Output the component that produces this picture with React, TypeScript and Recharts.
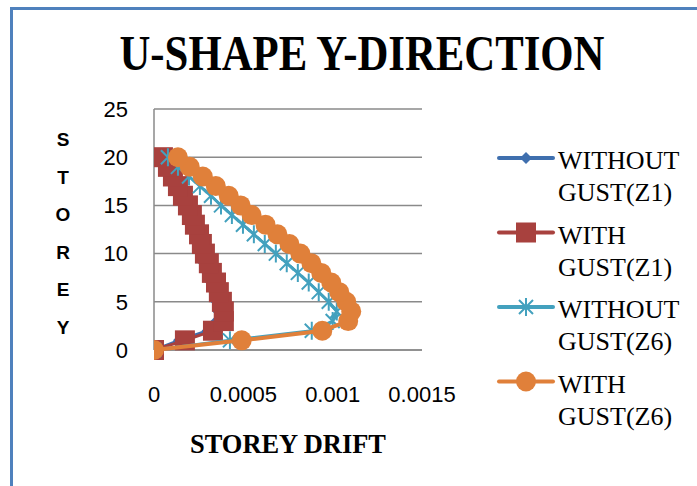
import { ScatterChart, Scatter, XAxis, YAxis, CartesianGrid, Legend } from "recharts";

// storey drift per storey level
const STOREYS = [0, 1, 2, 3, 4, 5, 6, 7, 8, 9, 10, 11, 12, 13, 14, 15, 16, 17, 18, 19, 20];
const WITHOUT_GUST_Z1 = [0, 0.00014, 0.0003, 0.00035, 0.00036, 0.00035, 0.00034, 0.00032, 0.0003, 0.00028, 0.00026, 0.00025, 0.00023, 0.00021, 0.00019, 0.00017, 0.00015, 0.00012, 0.0001, 0.00007, 0.00004];
const WITH_GUST_Z1 = [0, 0.000173, 0.00033, 0.000391, 0.000391, 0.00038, 0.000363, 0.000347, 0.000324, 0.000307, 0.000285, 0.000268, 0.000252, 0.000229, 0.000212, 0.00019, 0.000162, 0.000134, 0.000106, 0.000078, 0.00005];
const WITHOUT_GUST_Z6 = [0, 0.000425, 0.000883, 0.001, 0.001023, 0.000978, 0.000922, 0.000866, 0.000805, 0.000743, 0.000682, 0.00062, 0.000559, 0.000498, 0.000436, 0.000375, 0.000319, 0.000257, 0.000196, 0.000134, 0.000078];
const WITH_GUST_Z6 = [0, 0.000491, 0.000942, 0.001087, 0.001104, 0.001076, 0.001037, 0.000992, 0.000936, 0.000881, 0.000819, 0.000758, 0.000691, 0.000624, 0.000546, 0.000485, 0.000418, 0.000346, 0.000273, 0.0002, 0.000134];

const X_TICKS = [0, 0.0005, 0.001, 0.0015];
const Y_TICKS = [0, 5, 10, 15, 20, 25];

const SERIES = [
  { key: "wo1", lines: ["WITHOUT", "GUST(Z1)"], color: "#3f6fae", marker: "diamond", drift: WITHOUT_GUST_Z1 },
  { key: "w1", lines: ["WITH", "GUST(Z1)"], color: "#a8413e", marker: "square", drift: WITH_GUST_Z1 },
  { key: "wo6", lines: ["WITHOUT", "GUST(Z6)"], color: "#43a1be", marker: "star", drift: WITHOUT_GUST_Z6 },
  { key: "w6", lines: ["WITH", "GUST(Z6)"], color: "#e0803a", marker: "circle", drift: WITH_GUST_Z6 },
];

const toPoints = (drift: number[]) => STOREYS.map((s, i) => ({ drift: drift[i], storey: s }));

function Marker({ type, cx, cy, color }: { type: string; cx: number; cy: number; color: string }) {
  if (cx == null || cy == null) return null;
  if (type === "diamond") {
    const h = 6;
    return <path d={`M${cx},${cy - h}L${cx + h},${cy}L${cx},${cy + h}L${cx - h},${cy}Z`} fill={color} />;
  }
  if (type === "square") {
    return <rect x={cx - 10} y={cy - 10} width={20} height={20} fill={color} />;
  }
  if (type === "star") {
    const h = 9;
    const d = 7;
    return (
      <path
        d={`M${cx},${cy - h}L${cx},${cy + h}M${cx - d},${cy - d}L${cx + d},${cy + d}M${cx - d},${cy + d}L${cx + d},${cy - d}`}
        stroke={color}
        strokeWidth={2}
        fill="none"
      />
    );
  }
  return <circle cx={cx} cy={cy} r={10} fill={color} />;
}

function LegendBox() {
  return (
    <svg width={207} height={300} style={{ display: "block" }}>
      {SERIES.map((s, i) => {
        const y = 18 + i * 74.5;
        return (
          <g key={s.key}>
            <line x1={9} x2={63} y1={y} y2={y} stroke={s.color} strokeWidth={4} strokeLinecap="round" />
            <Marker type={s.marker} cx={36} cy={y} color={s.color} />
            <text x={68} y={y + 11} fontFamily="'Liberation Serif', serif" fontSize={26} fill="#000">
              {s.lines[0]}
            </text>
            <text x={68} y={y + 43} fontFamily="'Liberation Serif', serif" fontSize={26} fill="#000">
              {s.lines[1]}
            </text>
          </g>
        );
      })}
    </svg>
  );
}

const tickStyle = { fontFamily: "'Liberation Sans', sans-serif", fontSize: 22, fill: "#000" };

export default function App() {
  const yLetters = ["S", "T", "O", "R", "E", "Y"];
  return (
    <div style={{ position: "absolute", left: 0, top: 0, width: 697, height: 486, background: "#fff" }}>
      <div
        style={{
          position: "absolute",
          left: 10,
          top: 7,
          width: 687,
          height: 479,
          borderLeft: "3px solid #4f81bd",
          borderTop: "3px solid #4f81bd",
          boxSizing: "border-box",
        }}
      />
      <ScatterChart width={697} height={486} margin={{ top: 109, right: 275, bottom: 106, left: 94 }}>
        <CartesianGrid vertical={false} stroke="#8a8a8a" strokeWidth={1.5} />
        <XAxis
          type="number"
          dataKey="drift"
          domain={[0, 0.0015]}
          ticks={X_TICKS}
          tickFormatter={(v: number) => String(v)}
          tick={tickStyle}
          tickLine={false}
          tickMargin={30}
          axisLine={{ stroke: "#8a8a8a", strokeWidth: 1.5 }}
          allowDataOverflow
        />
        <YAxis
          type="number"
          dataKey="storey"
          domain={[0, 25]}
          ticks={Y_TICKS}
          width={60}
          tick={tickStyle}
          tickLine={false}
          tickMargin={20}
          axisLine={{ stroke: "#8a8a8a", strokeWidth: 1.5 }}
        />
        <Legend
          layout="vertical"
          align="center"
          verticalAlign="middle"
          content={() => <LegendBox />}
          wrapperStyle={{ left: 490, top: 140, width: 207, height: 300 }}
        />
        {SERIES.map((s) => (
          <Scatter
            key={s.key}
            name={s.lines.join(" ")}
            data={toPoints(s.drift)}
            fill={s.color}
            line={{ stroke: s.color, strokeWidth: s.marker === "circle" ? 4 : 3 }}
            shape={(p: any) => <Marker type={s.marker} cx={p.cx} cy={p.cy} color={s.color} />}
            isAnimationActive={false}
          />
        ))}
      </ScatterChart>
      <svg width={697} height={486} style={{ position: "absolute", left: 0, top: 0, pointerEvents: "none" }}>
        <text
          x={362}
          y={70}
          textAnchor="middle"
          fontFamily="'Liberation Serif', serif"
          fontWeight="bold"
          fontSize={50}
          textLength={485}
          lengthAdjust="spacingAndGlyphs"
          fill="#000"
        >
          U-SHAPE Y-DIRECTION
        </text>
        {yLetters.map((l, i) => (
          <text
            key={i}
            x={63}
            y={140 + i * 37.6 + 6}
            textAnchor="middle"
            fontFamily="'Liberation Sans', sans-serif"
            fontWeight="bold"
            fontSize={19}
            fill="#000"
          >
            {l}
          </text>
        ))}
        <text
          x={288}
          y={453}
          textAnchor="middle"
          fontFamily="'Liberation Serif', serif"
          fontWeight="bold"
          fontSize={27}
          textLength={196}
          lengthAdjust="spacingAndGlyphs"
          fill="#000"
        >
          STOREY DRIFT
        </text>
      </svg>
    </div>
  );
}
